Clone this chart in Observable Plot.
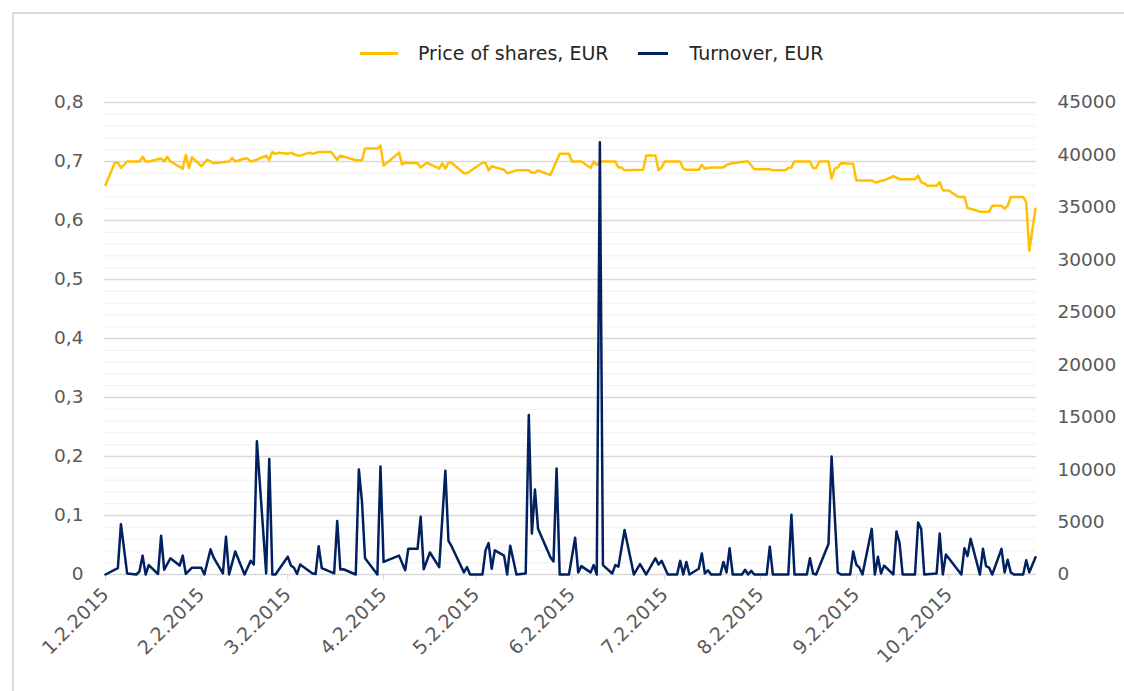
<!DOCTYPE html>
<html>
<head>
<meta charset="utf-8">
<script src="https://cdn.jsdelivr.net/npm/d3@7"></script>
<script src="https://cdn.jsdelivr.net/npm/@observablehq/plot@0.6"></script>
<style>
html,body{margin:0;padding:0;overflow:hidden;background:#fff;width:1124px;height:691px;}
#frame{position:absolute;left:12px;top:12px;width:1300px;height:900px;border:2px solid #d9d9d9;box-sizing:border-box;}
#legend{position:absolute;left:360px;top:40px;height:26px;display:flex;align-items:center;font-family:"DejaVu Sans",Verdana,sans-serif;font-size:19px;color:#262626;white-space:nowrap;}
.sw{display:inline-block;width:38px;height:3px;margin-right:20px;}
.item{display:flex;align-items:center;margin-right:29px;}
#chart{position:absolute;left:0;top:80px;}
</style>
</head>
<body>
<div id="frame"></div>
<div id="legend"></div>
<div id="chart"></div>
<script>
// ---- data ----
const seriesNames = ["Price of shares, EUR", "Turnover, EUR"];
const priceDates = ["01-02","01-05","01-06","01-07","01-09","01-13","01-14","01-15","01-16","01-20","01-21","01-22","01-23","01-27","01-28","01-29","01-30","02-02","02-04","02-06","02-11","02-12","02-13","02-16","02-17","02-18","02-20","02-23","02-24","02-25","02-26","02-27","03-02","03-03","03-05","03-06","03-09","03-10","03-12","03-16","03-18","03-19","03-24","03-26","03-27","03-31","04-01","04-02","04-07","04-08","04-09","04-13","04-14","04-16","04-20","04-21","04-22","04-23","04-24","04-28","04-29","05-04","05-05","05-06","05-07","05-11","05-12","05-15","05-19","05-20","05-21","05-22","05-26","05-29","06-01","06-02","06-05","06-08","06-09","06-10","06-11","06-16","06-17","06-18","06-19","06-25","06-26","06-29","06-30","07-01","07-02","07-07","07-08","07-09","07-13","07-14","07-15","07-17","07-21","07-22","07-23","07-24","07-28","07-29","07-31","08-05","08-06","08-10","08-11","08-12","08-13","08-18","08-19","08-20","08-21","08-24","08-25","08-26","08-27","08-28","09-01","09-02","09-07","09-08","09-09","09-10","09-11","09-14","09-16","09-21","09-22","09-23","09-24","09-25","09-28","09-29","09-30","10-02","10-05","10-07","10-08","10-09","10-12","10-15","10-16","10-19","10-20","10-21","10-22","10-26","10-27","10-28","10-30"];
const priceValues = [0.660,0.698,0.698,0.689,0.700,0.700,0.708,0.700,0.700,0.705,0.700,0.708,0.700,0.688,0.711,0.689,0.707,0.692,0.703,0.697,0.700,0.706,0.700,0.705,0.705,0.700,0.703,0.710,0.703,0.716,0.713,0.715,0.713,0.715,0.710,0.710,0.715,0.713,0.716,0.716,0.703,0.710,0.702,0.702,0.722,0.722,0.727,0.693,0.715,0.695,0.698,0.697,0.690,0.698,0.688,0.697,0.688,0.698,0.698,0.680,0.680,0.698,0.698,0.685,0.692,0.686,0.680,0.685,0.685,0.681,0.681,0.685,0.677,0.713,0.713,0.700,0.700,0.689,0.700,0.694,0.700,0.700,0.690,0.690,0.685,0.686,0.710,0.710,0.685,0.690,0.700,0.700,0.688,0.686,0.686,0.694,0.688,0.690,0.690,0.694,0.696,0.697,0.700,0.700,0.687,0.687,0.685,0.685,0.689,0.690,0.700,0.700,0.689,0.689,0.700,0.700,0.671,0.688,0.690,0.697,0.696,0.668,0.668,0.665,0.665,0.668,0.668,0.675,0.670,0.670,0.676,0.665,0.663,0.659,0.659,0.665,0.651,0.651,0.640,0.640,0.621,0.620,0.615,0.615,0.625,0.625,0.620,0.625,0.640,0.640,0.631,0.549,0.620];
const turnoverDates = ["01-02","01-06","01-07","01-09","01-12","01-13","01-14","01-15","01-16","01-19","01-20","01-21","01-23","01-26","01-27","01-28","01-30","02-02","02-03","02-05","02-06","02-09","02-10","02-11","02-13","02-16","02-18","02-19","02-20","02-23","02-24","02-25","02-26","03-02","03-03","03-04","03-05","03-06","03-10","03-11","03-12","03-13","03-17","03-18","03-19","03-20","03-24","03-25","03-26","03-27","03-31","04-01","04-02","04-07","04-09","04-10","04-13","04-14","04-15","04-17","04-20","04-22","04-23","04-24","04-28","04-29","04-30","05-04","05-05","05-06","05-07","05-08","05-11","05-12","05-13","05-15","05-18","05-19","05-20","05-21","05-22","05-26","05-27","05-28","05-29","06-01","06-03","06-04","06-05","06-08","06-09","06-10","06-11","06-12","06-15","06-16","06-17","06-19","06-22","06-24","06-26","06-29","06-30","07-01","07-03","07-06","07-07","07-08","07-09","07-10","07-13","07-14","07-15","07-16","07-17","07-20","07-21","07-22","07-23","07-24","07-27","07-28","07-29","07-30","07-31","08-04","08-05","08-06","08-11","08-12","08-13","08-17","08-18","08-19","08-20","08-24","08-25","08-27","08-28","08-31","09-01","09-02","09-03","09-04","09-07","09-08","09-09","09-10","09-11","09-14","09-15","09-16","09-17","09-21","09-22","09-23","09-24","09-28","09-29","09-30","10-01","10-06","10-07","10-08","10-09","10-12","10-13","10-14","10-15","10-16","10-19","10-20","10-21","10-22","10-23","10-26","10-27","10-28","10-30"];
const turnoverValues = [0,600,4800,100,0,300,1800,0,900,50,3700,450,1550,850,1800,50,650,650,0,2400,1600,100,3600,0,2200,0,1300,950,12700,100,11000,0,0,1700,860,640,50,950,100,50,2700,600,100,5100,480,500,0,10000,7000,1550,0,10300,1200,1800,400,2450,2450,5500,500,2100,700,9900,3200,2700,200,700,0,0,2300,3000,550,2300,1800,0,2750,0,100,15200,3900,8100,4350,1650,1250,10100,0,0,3500,200,800,200,900,0,41200,900,100,900,750,4250,0,1000,0,1550,950,1300,0,0,1300,0,1200,0,550,2000,100,400,0,0,1200,200,2500,0,0,450,0,350,0,0,2650,0,0,5700,0,0,1550,100,0,2900,11250,200,0,0,2200,950,650,0,4350,0,1700,100,850,0,4100,3000,0,0,4950,4350,0,100,3900,0,1900,0,2500,1750,3400,0,2450,800,650,0,2450,200,1400,200,0,0,1350,200,1650];
const leftTicks = [0,0.1,0.2,0.3,0.4,0.5,0.6,0.7,0.8];
const minorTicks = d3.range(0, 41).map(i => i * 0.02).filter(v => Math.abs(v * 10 - Math.round(v * 10)) > 1e-6);
const rightTicks = [0,5000,10000,15000,20000,25000,30000,35000,40000,45000];
const monthTicks = ["01-02","02-02","03-02","04-02","05-02","06-02","07-02","08-02","09-02","10-02"];
const colors = ["#FFC000", "#002060"];

// ---- build ----
const toDate = s => new Date("2015-" + s + "T00:00:00Z");
const price = priceDates.map((d, i) => ({date: toDate(d), v: priceValues[i]}));
const turnover = turnoverDates.map((d, i) => ({date: toDate(d), v: turnoverValues[i]}));
const LMAX = 0.8, RMAX = 45000, k = LMAX / RMAX;
const fmtDate = d => `${d.getUTCMonth() + 1}.${d.getUTCDate()}.${d.getUTCFullYear()}`;
const fmtLeft = v => v === 0 ? "0" : v.toFixed(1).replace(".", ",");

const legend = document.getElementById("legend");
seriesNames.forEach((n, i) => {
  const it = document.createElement("div"); it.className = "item";
  const sw = document.createElement("span"); sw.className = "sw"; sw.style.background = colors[i];
  if (i === 1) { sw.style.width = "30px"; sw.style.marginRight = "22px"; }
  const tx = document.createElement("span"); tx.textContent = n;
  it.appendChild(sw); it.appendChild(tx); legend.appendChild(it);
});

const font = {fontFamily: "'DejaVu Sans', Verdana, sans-serif", fontSize: "18.5px", background: "transparent", overflow: "visible"};
const chart = Plot.plot({
  width: 1124,
  height: 611,
  marginTop: 22,
  marginBottom: 117,
  marginLeft: 105,
  marginRight: 89,
  style: font,
  x: {type: "utc", domain: [toDate("01-02"), toDate("10-30")]},
  y: {domain: [0, LMAX]},
  marks: [
    Plot.ruleY(minorTicks, {stroke: "#f0f0f0", strokeWidth: 1, insetLeft: -1, insetRight: -1}),
    Plot.ruleY(leftTicks, {stroke: "#d9d9d9", strokeWidth: 1.3, insetLeft: -1, insetRight: -1}),
    Plot.axisY(leftTicks, {anchor: "left", tickSize: 0, tickPadding: 22, tickFormat: fmtLeft, fill: "#595959", label: null}),
    Plot.axisY(rightTicks.map(t => t * k), {anchor: "right", tickSize: 0, tickPadding: 22, tickFormat: v => String(Math.round(v / k)), fill: "#595959", label: null}),
    Plot.axisX(monthTicks.map(toDate), {tickSize: 6, stroke: "#d9d9d9", tickFormat: () => "", label: null}),
    Plot.axisX(monthTicks.map(toDate), {tickSize: 0, tickPadding: 17, tickRotate: -45, tickFormat: fmtDate, fill: "#595959", fontSize: "19px", label: null}),
    Plot.lineY(price, {x: "date", y: "v", stroke: colors[0], strokeWidth: 2.5}),
    Plot.lineY(turnover, {x: "date", y: d => d.v * k, stroke: colors[1], strokeWidth: 2.5})
  ]
});
document.getElementById("chart").appendChild(chart);
</script>
</body>
</html>
